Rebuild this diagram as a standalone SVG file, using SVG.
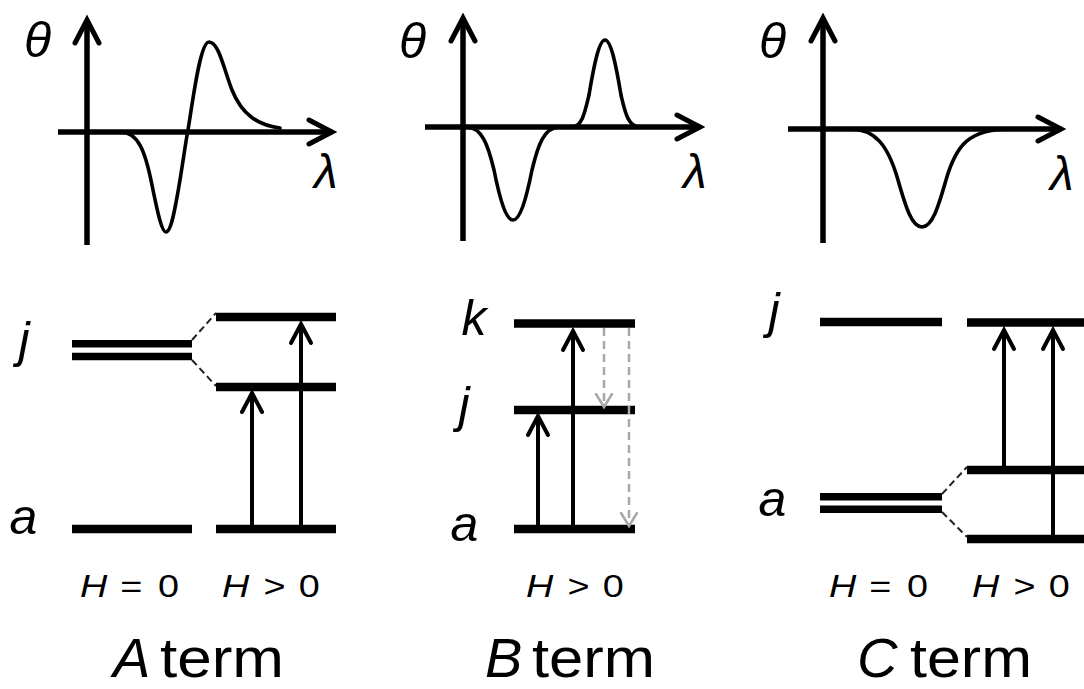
<svg xmlns="http://www.w3.org/2000/svg" width="1084" height="689" viewBox="0 0 1084 689">
<style>
text{font-family:"Liberation Sans",Arial,sans-serif;fill:#000}
.it{font-style:italic}
.axis{stroke:#000;stroke-width:5.5;fill:none}
.curve{stroke:#000;stroke-width:3.6;fill:none;stroke-linecap:round;stroke-linejoin:round}
.lvl{stroke:#000;stroke-width:8.5}
.dbl{stroke:#000;stroke-width:7.5}
.tr{stroke:#000;stroke-width:4;fill:none}
.split{stroke:#222;stroke-width:2;stroke-dasharray:7 4;fill:none}
.relax{stroke:#a8a8a8;stroke-width:2.5;stroke-dasharray:8 5;fill:none}
.sym{font-size:50px;font-style:italic}
.th{font-size:50px;font-style:italic}
.la{font-size:48px;font-style:italic}
.hl{font-size:31px}
.ttl{font-size:56px}
</style>
<defs>
<marker id="axh" viewBox="-30 -16 36 32" refX="0" refY="0" markerWidth="36" markerHeight="32" markerUnits="userSpaceOnUse" orient="auto" overflow="visible">
<path d="M-23,-12 L0,0 L-23,12" fill="none" stroke="#000" stroke-width="5" stroke-linecap="round"/>
</marker>
<marker id="trh" viewBox="-26 -14 32 28" refX="0" refY="0" markerWidth="32" markerHeight="28" markerUnits="userSpaceOnUse" orient="auto" overflow="visible">
<path d="M-19,-10 L0,0 L-19,10" fill="none" stroke="#000" stroke-width="4" stroke-linecap="round"/>
</marker>
<marker id="grh" viewBox="-18 -11 22 22" refX="0" refY="0" markerWidth="22" markerHeight="22" markerUnits="userSpaceOnUse" orient="auto" overflow="visible">
<path d="M-13,-8 L0,0 L-13,8" fill="none" stroke="#a8a8a8" stroke-width="2.5" stroke-linecap="round"/>
</marker>
</defs>
<rect width="1084" height="689" fill="#fff"/>

<!-- Spectra -->
<g id="graph-A">
<line class="axis" x1="87" y1="245" x2="87" y2="20" marker-end="url(#axh)"/>
<line class="axis" x1="58" y1="132" x2="332" y2="132" marker-end="url(#axh)"/>
<path class="curve" d="M120 132 C138 132 145 150 152 185 C158 215 162 232 166 232 C171 232 175 210 180 180 C184 155 186 140 188 130 C193 100 200 42 209 42 C219 42 224 70 232 90 C242 115 258 125 280 128"/>
<text class="th" x="24" y="57">θ</text>
<text class="la" x="314" y="188">λ</text>
</g>
<g id="graph-B">
<line class="axis" x1="463" y1="241" x2="463" y2="18" marker-end="url(#axh)"/>
<line class="axis" x1="425" y1="127" x2="700" y2="127" marker-end="url(#axh)"/>
<path class="curve" d="M466 127 C482 127 488 145 494 170 C500 200 506 220 513 220 C520 220 526 200 532 170 C538 145 544 127 560 127"/>
<path class="curve" d="M572 127 C582 127 585 112 589 95 C594 65 599 40 605 40 C611 40 616 65 621 95 C625 112 628 127 640 127"/>
<text class="th" x="399" y="58">θ</text>
<text class="la" x="683" y="188">λ</text>
</g>
<g id="graph-C">
<line class="axis" x1="823" y1="243" x2="823" y2="18" marker-end="url(#axh)"/>
<line class="axis" x1="788" y1="129" x2="1061" y2="129" marker-end="url(#axh)"/>
<path class="curve" d="M850 129 C875 129 888 145 898 180 C906 208 912 227 922 227 C932 227 938 208 946 180 C956 145 969 129 1010 129"/>
<text class="th" x="759" y="58">θ</text>
<text class="la" x="1050" y="190">λ</text>
</g>

<!-- A term levels -->
<g id="A-j0"><line class="dbl" x1="72" y1="343.7" x2="192" y2="343.7"/><line class="dbl" x1="72" y1="356.5" x2="192" y2="356.5"/></g>
<g id="A-j1"><line class="lvl" x1="216" y1="317" x2="336" y2="317"/></g>
<g id="A-j2"><line class="lvl" x1="216" y1="387" x2="336" y2="387"/></g>
<g id="A-a0"><line class="lvl" x1="72" y1="529" x2="192" y2="529"/></g>
<g id="A-a1"><line class="lvl" x1="216" y1="529" x2="336" y2="529"/></g>
<g id="A-labels">
<text class="sym" x="24" y="357" text-anchor="middle">j</text>
<text class="sym" x="23.5" y="534" text-anchor="middle">a</text>
<g transform="translate(80,597) scale(1.22,1)"><text class="hl"><tspan class="it" x="0" y="0">H</tspan><tspan x="33">=</tspan><tspan x="64">0</tspan></text></g>
<g transform="translate(222,597) scale(1.22,1)"><text class="hl"><tspan class="it" x="0" y="0">H</tspan><tspan x="34">&gt;</tspan><tspan x="63">0</tspan></text></g>
<text class="ttl it" x="113" y="677">A</text>
<text class="ttl" x="160" y="677" textLength="124" lengthAdjust="spacingAndGlyphs">term</text>
</g>

<!-- B term levels -->
<g id="B-k"><line class="lvl" x1="514" y1="323.5" x2="635" y2="323.5"/></g>
<g id="B-j"><line class="lvl" x1="514" y1="410" x2="635" y2="410"/></g>
<g id="B-a"><line class="lvl" x1="514" y1="529" x2="635" y2="529"/></g>
<g id="B-labels">
<text class="sym" x="474" y="335" text-anchor="middle">k</text>
<text class="sym" x="464" y="422" text-anchor="middle">j</text>
<text class="sym" x="464.5" y="541" text-anchor="middle">a</text>
<g transform="translate(526,597) scale(1.22,1)"><text class="hl"><tspan class="it" x="0" y="0">H</tspan><tspan x="34">&gt;</tspan><tspan x="63">0</tspan></text></g>
<text class="ttl it" x="485" y="677">B</text>
<text class="ttl" x="532" y="677" textLength="123" lengthAdjust="spacingAndGlyphs">term</text>
</g>

<!-- C term levels -->
<g id="C-j0"><line class="lvl" x1="820" y1="322" x2="942" y2="322"/></g>
<g id="C-j1"><line class="lvl" x1="967" y1="322.5" x2="1084" y2="322.5"/></g>
<g id="C-a0"><line class="dbl" x1="820" y1="496.7" x2="942" y2="496.7"/><line class="dbl" x1="820" y1="509.2" x2="942" y2="509.2"/></g>
<g id="C-a1"><line class="lvl" x1="967" y1="470" x2="1084" y2="470"/></g>
<g id="C-a2"><line class="lvl" x1="967" y1="539" x2="1084" y2="539"/></g>
<g id="C-labels">
<text class="sym" x="774" y="328" text-anchor="middle">j</text>
<text class="sym" x="772.5" y="516" text-anchor="middle">a</text>
<g transform="translate(829,597) scale(1.22,1)"><text class="hl"><tspan class="it" x="0" y="0">H</tspan><tspan x="33">=</tspan><tspan x="64">0</tspan></text></g>
<g transform="translate(972,597) scale(1.22,1)"><text class="hl"><tspan class="it" x="0" y="0">H</tspan><tspan x="34">&gt;</tspan><tspan x="63">0</tspan></text></g>
<text class="ttl it" x="857" y="677">C</text>
<text class="ttl" x="910" y="677" textLength="122" lengthAdjust="spacingAndGlyphs">term</text>
</g>

<!-- Connectors -->
<g id="connectors">
<path class="split" d="M192 340 L216 313"/>
<path class="split" d="M192 360 L216 386"/>
<line class="tr" x1="252" y1="525" x2="252" y2="393" marker-end="url(#trh)"/>
<line class="tr" x1="301" y1="525" x2="301" y2="324" marker-end="url(#trh)"/>

<line class="tr" x1="538" y1="525" x2="538" y2="416" marker-end="url(#trh)"/>
<line class="tr" x1="573" y1="525" x2="573" y2="331" marker-end="url(#trh)"/>
<line class="relax" x1="604" y1="328" x2="604" y2="407" marker-end="url(#grh)"/>
<line class="relax" x1="629" y1="328" x2="629" y2="526" marker-end="url(#grh)"/>

<path class="split" d="M942 494 L967 467"/>
<path class="split" d="M942 512 L967 537"/>
<line class="tr" x1="1004" y1="466" x2="1004" y2="330" marker-end="url(#trh)"/>
<line class="tr" x1="1053" y1="535" x2="1053" y2="330" marker-end="url(#trh)"/>
</g>
</svg>
